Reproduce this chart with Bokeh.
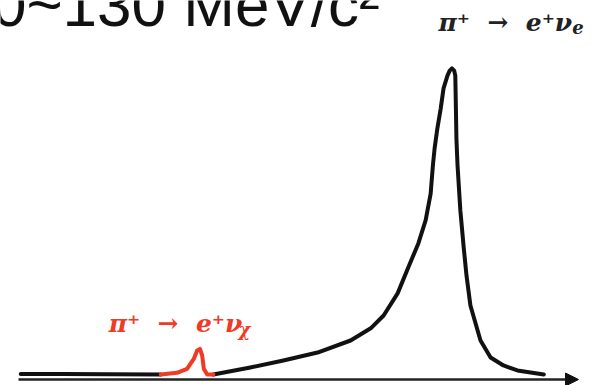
from bokeh.plotting import figure
from bokeh.models import Range1d, Arrow, NormalHead, ColumnDataSource
from bokeh.core.properties import value
from bokeh.embed import file_html
from bokeh.resources import INLINE

# schematic spectrum (arbitrary units: x 0..100 along the axis, y intensity 0..100)
flat_x = [0.4, 8.0, 16.0, 25.4]
flat_y = [1.8, 1.8, 1.7, 1.6]

signal_x = [25.4, 28.3, 30.1, 31.3, 31.9, 32.4, 32.8, 33.1, 33.7, 34.8]
signal_y = [1.6, 2.15, 3.4, 6.6, 9.3, 9.8, 7.7, 3.4, 1.6, 1.6]

main_x = [34.8, 41.4, 47.3, 53.4, 59.3, 62.9, 65.2, 67.7, 69.6, 71.4, 72.7, 73.6,
          74.0, 74.3, 74.8, 75.4, 75.9, 76.6, 77.0, 77.4, 77.8, 78.0, 78.1, 78.2,
          78.4, 78.9, 79.5, 80.0, 80.7, 82.5, 84.3, 86.6, 89.1, 93.8]
main_y = [1.6, 3.85, 6.1, 8.65, 12.5, 16.4, 20.5, 27.6, 35.9, 43.6, 51.0, 59.6,
          68.6, 74.0, 80.5, 86.9, 93.3, 97.4, 99.0, 99.7, 99.0, 97.4, 87.8, 77.2,
          68.6, 54.2, 42.3, 33.3, 23.7, 12.5, 7.05, 4.5, 2.9, 1.6]

axis_start, axis_end = 0.0, 100.0

NB = "\u00a0"
title_text = ["0~130 MeV/c\u00b2"]
sm_text = ["\u03c0\u207a" + NB + " \u2192" + NB + " e\u207a\u03bd"]
sm_sub = ["e"]
dark_text = ["\u03c0\u207a" + NB + " \u2192" + NB + " e\u207a\u03bd"]
dark_sub = ["\u03c7"]

RED = "#f03a26"
INK = "#111111"

p = figure(width=594, height=385, output_backend="svg", toolbar_location=None,
           x_range=Range1d(-3.214, 102.857), y_range=Range1d(-1.923, 121.47),
           min_border=0, x_axis_location=None, y_axis_location=None)
p.grid.visible = False
p.outline_line_color = None
p.background_fill_color = "white"
p.border_fill_color = "white"

p.add_layout(Arrow(end=NormalHead(size=13, fill_color=INK, line_color=INK, line_width=1),
                   x_start=axis_start, y_start=0, x_end=axis_end, y_end=0,
                   line_color="#222222", line_width=2.5))

p.line(flat_x, flat_y, line_color=INK, line_width=4, line_cap="round", line_join="round")
p.line(main_x, main_y, line_color=INK, line_width=4, line_cap="round", line_join="round")
p.line(signal_x, signal_y, line_color=RED, line_width=4, line_cap="round", line_join="round")

def txt(x, y, t, font, size, color, style="normal"):
    src = ColumnDataSource(dict(x=[x], y=[y], t=t))
    p.text(x="x", y="y", text="t", source=src, text_font=value(font),
           text_font_size=value(size), text_color=color, text_font_style=style,
           text_baseline="alphabetic", text_align="left")

txt(-4.75, 120.2, title_text, "Liberation Sans", "62px", INK)

txt(75.0, 114.5, sm_text, "DejaVu Serif", "25px", "#222222", "bold italic")
txt(98.9, 113.0, sm_sub, "DejaVu Serif", "18px", "#222222", "bold italic")

txt(16.1, 18.0, dark_text, "DejaVu Serif", "25px", RED, "bold italic")
txt(39.3, 15.9, dark_sub, "DejaVu Serif", "18px", RED, "bold italic")

open("out.html", "w").write(file_html(p, INLINE))
